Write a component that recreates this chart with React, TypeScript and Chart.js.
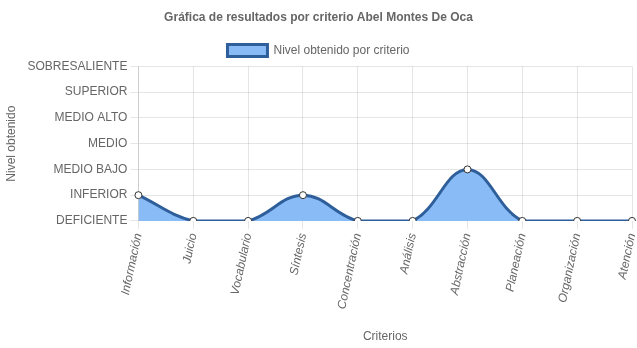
import React, { useEffect, useRef } from "react";
import { Chart, registerables } from "chart.js";

Chart.register(...registerables);

const criterios = [
  "Información",
  "Juicio",
  "Vocabulario",
  "Síntesis",
  "Concentración",
  "Análisis",
  "Abstracción",
  "Planeación",
  "Organización",
  "Atención",
];

// Level index per criterion (0 = DEFICIENTE ... 6 = SOBRESALIENTE)
const niveles = [1, 0, 0, 1, 0, 0, 2, 0, 0, 0];

const nivelLabels = [
  "DEFICIENTE",
  "INFERIOR",
  "MEDIO BAJO",
  "MEDIO",
  "MEDIO ALTO",
  "SUPERIOR",
  "SOBRESALIENTE",
];

const FONT = "Arial, 'Liberation Sans', Helvetica, sans-serif";

export default function App() {
  const canvasRef = useRef<HTMLCanvasElement | null>(null);

  useEffect(() => {
    const canvas = canvasRef.current;
    if (!canvas) return;
    Chart.defaults.font.family = FONT;
    Chart.defaults.font.size = 12;
    Chart.defaults.color = "#666";

    const chart = new Chart(canvas, {
      type: "line",
      data: {
        labels: criterios,
        datasets: [
          {
            label: "Nivel obtenido por criterio",
            data: niveles,
            borderColor: "#2f5f9b",
            backgroundColor: "#89bbf6",
            borderWidth: 3,
            fill: "origin",
            tension: 0.4,
            pointRadius: 3.5,
            pointBorderWidth: 1,
            pointBackgroundColor: "#ffffff",
            pointBorderColor: "#333",
          },
        ],
      },
      options: {
        responsive: false,
        animation: false,
        plugins: {
          title: {
            display: true,
            text: "Gráfica de resultados por criterio Abel Montes De Oca",
            font: { size: 12, weight: "bold" },
            color: "#666",
            padding: 10,
          },
          legend: {
            display: true,
            labels: { boxWidth: 40, boxHeight: 12, color: "#666" },
          },
          tooltip: { enabled: false },
        },
        scales: {
          x: {
            grid: { color: "rgba(0,0,0,0.1)", tickLength: 8 },
            ticks: {
              minRotation: 78,
              maxRotation: 78,
              font: { style: "italic", size: 12 },
              autoSkip: false,
            },
            title: { display: true, text: "Criterios", color: "#666", padding: { top: 16, bottom: 4 } },
            afterFit: (scale: any) => {
              // let the last rotated label run to the canvas edge
              scale.paddingRight = 4;
            },
          },
          y: {
            min: 0,
            max: 6,
            grid: { color: "rgba(0,0,0,0.1)", tickLength: 8 },
            ticks: {
              stepSize: 1,
              callback: (v: any) => nivelLabels[Number(v)] ?? "",
            },
            title: { display: true, text: "Nivel obtenido", color: "#666", padding: { top: 4, bottom: 6 } },
          },
        },
      },
    });
    return () => chart.destroy();
  }, []);

  return (
    <div style={{ position: "fixed", left: 0, top: 0, width: 637, height: 348 }}>
      <canvas ref={canvasRef} width={637} height={348} style={{ width: 637, height: 348 }} />
    </div>
  );
}
